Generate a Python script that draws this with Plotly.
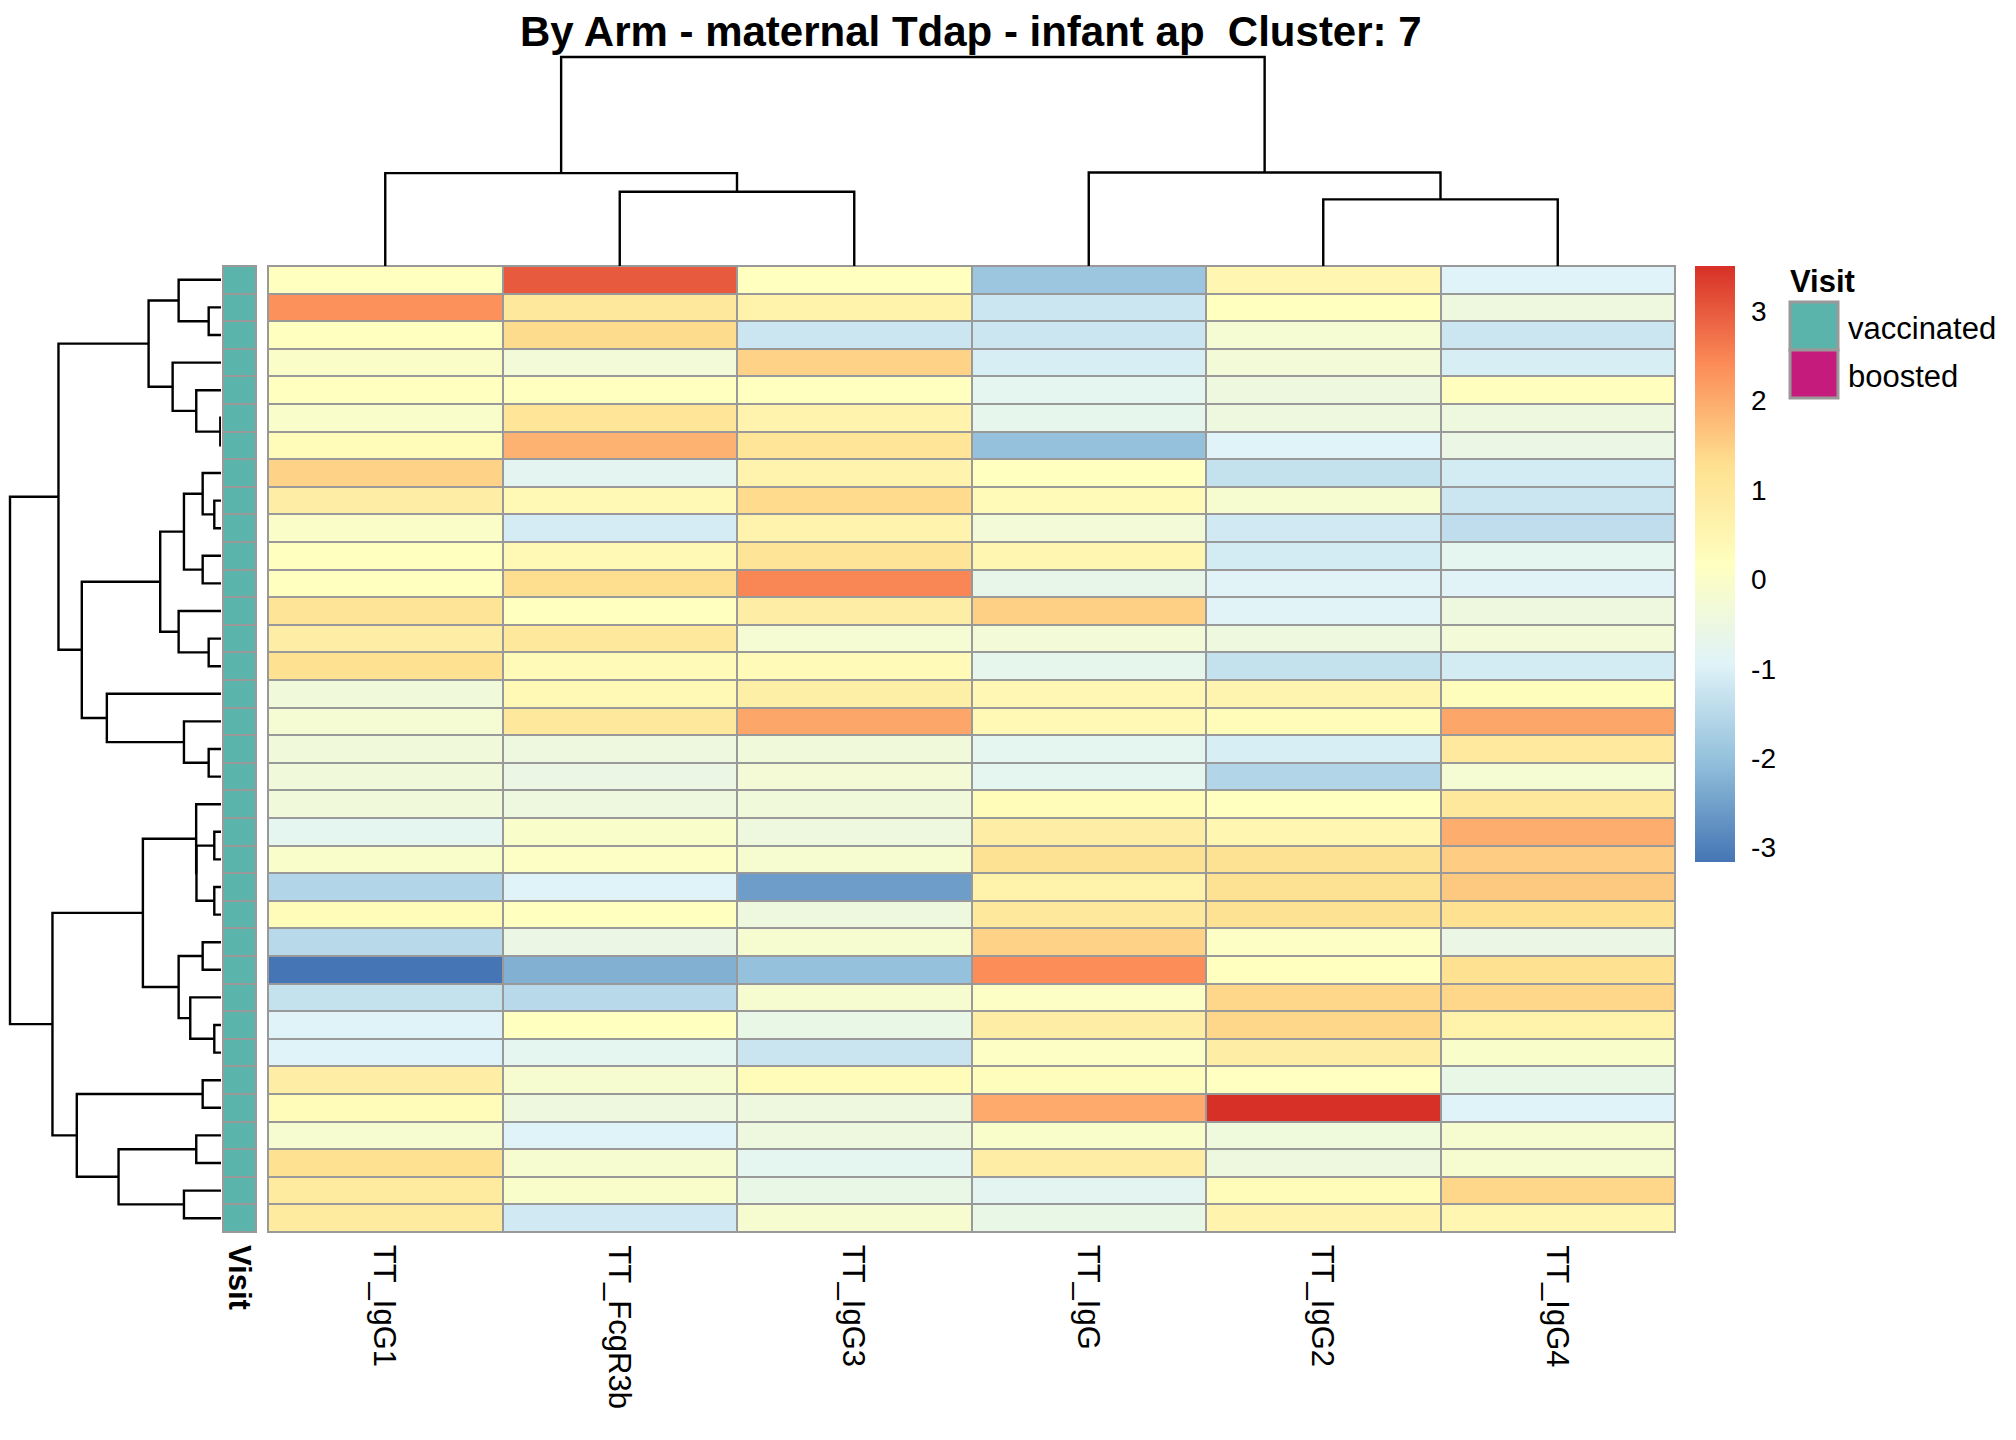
import plotly.graph_objects as go

W, H = 2016, 1440
FONT = "Liberation Sans, Arial, sans-serif"

TITLE = "By Arm - maternal Tdap - infant ap  Cluster: 7"
COLS = ["TT_IgG1", "TT_FcgR3b", "TT_IgG3", "TT_IgG", "TT_IgG2", "TT_IgG4"]

# scaled values, rows in displayed (clustered) order
VALUES = [
    [0.17, 3.00, 0.17, -1.90, 0.50, -0.95],
    [2.34, 1.00, 0.65, -1.22, 0.17, -0.44],
    [0.17, 1.33, -1.22, -1.22, -0.20, -1.22],
    [0.00, -0.30, 1.45, -1.05, -0.30, -1.05],
    [0.17, 0.17, 0.17, -0.76, -0.44, 0.20],
    [-0.05, 1.10, 0.60, -0.70, -0.44, -0.44],
    [0.30, 1.90, 1.10, -2.00, -0.94, -0.55],
    [1.45, -0.80, 0.60, 0.17, -1.33, -1.12],
    [0.80, 0.40, 1.35, 0.35, -0.15, -1.22],
    [0.00, -1.10, 0.60, -0.30, -1.15, -1.41],
    [0.17, 0.40, 1.15, 0.50, -1.12, -0.76],
    [0.17, 1.30, 2.47, -0.65, -0.92, -0.92],
    [1.15, 0.17, 0.80, 1.50, -0.92, -0.44],
    [0.80, 1.00, -0.20, -0.30, -0.44, -0.30],
    [1.25, 0.35, 0.35, -0.70, -1.33, -1.12],
    [-0.36, 0.40, 0.75, 0.45, 0.55, 0.25],
    [-0.20, 1.00, 2.05, 0.40, 0.30, 2.05],
    [-0.36, -0.44, -0.36, -0.76, -1.05, 0.95],
    [-0.36, -0.55, -0.26, -0.76, -1.59, -0.20],
    [-0.36, -0.44, -0.36, 0.30, 0.17, 1.00],
    [-0.76, -0.05, -0.44, 0.80, 0.50, 1.95],
    [-0.05, 0.05, -0.15, 1.20, 1.20, 1.55],
    [-1.59, -0.94, -2.56, 0.65, 1.20, 1.60],
    [0.30, 0.17, -0.44, 1.00, 1.20, 1.25],
    [-1.50, -0.55, -0.15, 1.45, 0.05, -0.55],
    [-3.16, -2.27, -2.00, 2.39, 0.17, 1.25],
    [-1.33, -1.50, -0.15, 0.05, 1.40, 1.40],
    [-0.95, 0.17, -0.60, 0.80, 1.40, 0.65],
    [-0.94, -0.76, -1.25, 0.05, 0.80, -0.05],
    [0.80, -0.15, 0.30, 0.25, 0.15, -0.60],
    [0.30, -0.44, -0.44, 2.00, 3.50, -0.94],
    [-0.15, -0.94, -0.44, -0.05, -0.40, -0.15],
    [1.25, -0.15, -0.76, 0.80, -0.44, -0.15],
    [0.90, -0.05, -0.60, -0.80, 0.30, 1.40],
    [0.90, -1.15, -0.15, -0.60, 0.60, 0.50],
]
N_ROWS = len(VALUES)

VISIT_LEVELS = ["vaccinated", "boosted"]
VISIT_COLORS = ["#5AB4AC", "#C51B7D"]
ROW_VISIT = ["vaccinated"] * N_ROWS

# clustering trees: (left, right, height); leaves are display indices
ROW_TREE = (
    (
        ((0, (1, 2, 12.3), 42.3), (3, (4, (5, 6, 0.7), 24.7), 48.3), 72.3),
        (
            (((7, (8, 9, 6.7), 18.3), (10, 11, 18.3), 37.0), (12, (13, 14, 12.3), 42.3), 60.7),
            (15, (16, (17, 18, 12.3), 37.0), 114.0),
            139.0,
        ),
        162.3,
    ),
    (
        (
            (19, ((20, 21, 6.7), (22, 23, 6.7), 24.5), 24.8),
            ((24, 25, 18.3), (26, (27, 28, 6.7), 30.7), 42.3),
            78.0,
        ),
        ((29, 30, 18.3), ((31, 32, 24.7), (33, 34, 37.0), 102.3), 144.0),
        168.3,
    ),
    210.7,
)
COL_TREE = ((0, (1, 2, 74.3), 93.0), (3, (4, 5, 66.7), 93.7), 209.3)

COLORSCALE_HEX = ["#4575B4", "#91BFDB", "#E0F3F8", "#FFFFBF", "#FEE090", "#FC8D59", "#D73027"]
ZMIN, ZMAX = -3.16, 3.50
CB_TICKS = [-3, -2, -1, 0, 1, 2, 3]


def tree_segments(node):
    """return (position, height, pos_list, h_list) with None separators"""
    if isinstance(node, int):
        return float(node), 0.0, [], []
    l, r, h = node
    pl, hl, Pl, Hl = tree_segments(l)
    pr, hr, Pr, Hr = tree_segments(r)
    P = Pl + Pr + [pl, pl, pr, pr, None]
    Hs = Hl + Hr + [hl, h, h, hr, None]
    return (pl + pr) / 2.0, h, P, Hs


OFF = 8  # page offset of the plot div


def px_x(p):
    return (p - OFF) / W


def px_y(p):
    return 1 - (p - OFF) / H


# pixel layout (target picture coordinates)
HM_L, HM_R, HM_T, HM_B = 268, 1675, 266, 1232
AN_L, AN_R = 223, 256
RD_L, RD_R = 10, 221
CD_T = 57

fig = go.Figure()

cs = [[i / (len(COLORSCALE_HEX) - 1), c] for i, c in enumerate(COLORSCALE_HEX)]
fig.add_trace(go.Heatmap(
    z=VALUES, x=list(range(len(COLS))), y=list(range(N_ROWS)),
    colorscale=cs, zmin=ZMIN, zmax=ZMAX, xgap=2, ygap=2,
    xaxis="x", yaxis="y", hoverinfo="skip",
    colorbar=dict(
        x=px_x(1695), xanchor="left", y=px_y(HM_T), yanchor="top",
        len=(ZMAX - ZMIN) * 89.5, lenmode="pixels",
        thickness=40, thicknessmode="pixels", outlinewidth=0,
        xpad=0, ypad=0,
        tickvals=CB_TICKS, ticktext=[str(t) for t in CB_TICKS],
        ticks="outside", ticklen=11, tickcolor="rgba(0,0,0,0)",
        tickfont=dict(size=28, family=FONT, color="black"),
    ),
))

# annotation column
visit_codes = [[VISIT_LEVELS.index(v)] for v in ROW_VISIT]
fig.add_trace(go.Heatmap(
    z=visit_codes, x=[0], y=list(range(N_ROWS)),
    colorscale=[[0, VISIT_COLORS[0]], [0.5, VISIT_COLORS[0]], [0.5, VISIT_COLORS[1]], [1, VISIT_COLORS[1]]],
    zmin=0, zmax=1, showscale=False, xgap=2, ygap=2,
    xaxis="x2", yaxis="y2", hoverinfo="skip",
))

# row dendrogram
_, rh, rP, rH = tree_segments(ROW_TREE)
fig.add_trace(go.Scatter(x=rH, y=rP, mode="lines", line=dict(color="black", width=2.4),
                         xaxis="x3", yaxis="y3", hoverinfo="skip", showlegend=False))
# column dendrogram
_, ch, cP, cH = tree_segments(COL_TREE)
fig.add_trace(go.Scatter(x=cP, y=cH, mode="lines", line=dict(color="black", width=2.4),
                         xaxis="x4", yaxis="y4", hoverinfo="skip", showlegend=False))

hm_ydom = [px_y(HM_B), px_y(HM_T)]
yrange = [N_ROWS - 0.5, -0.5]
noax = dict(visible=False, showgrid=False, zeroline=False, fixedrange=True)
rd_right = RD_R - OFF
rd_root = RD_L - OFF
fig.update_layout(
    width=W, height=H, autosize=False,
    margin=dict(l=0, r=0, t=0, b=0, pad=0),
    paper_bgcolor="white", plot_bgcolor="white",
    showlegend=False,
    xaxis=dict(domain=[px_x(HM_L), px_x(HM_R)], range=[-0.5, len(COLS) - 0.5], anchor="y", **noax),
    yaxis=dict(domain=hm_ydom, range=yrange, anchor="x", **noax),
    xaxis2=dict(domain=[px_x(AN_L), px_x(AN_R)], range=[-0.5, 0.5], anchor="y2", **noax),
    yaxis2=dict(domain=hm_ydom, range=yrange, anchor="x2", **noax),
    xaxis3=dict(domain=[0, rd_right / W], range=[rh * rd_right / (rd_right - rd_root), 0], anchor="y3", **noax),
    yaxis3=dict(domain=hm_ydom, range=yrange, anchor="x3", **noax),
    xaxis4=dict(domain=[px_x(HM_L), px_x(HM_R)], range=[-0.5, len(COLS) - 0.5], anchor="y4", **noax),
    yaxis4=dict(domain=[px_y(HM_T), px_y(40)], range=[0, ch * (HM_T - 40) / (HM_T - CD_T)], anchor="x4", **noax),
)

GREY = "#999999"
shapes = [
    dict(type="rect", xref="paper", yref="paper", layer="below",
         x0=px_x(HM_L - 1), x1=px_x(HM_R + 1), y0=px_y(HM_B + 1), y1=px_y(HM_T - 1),
         fillcolor=GREY, line=dict(width=0)),
    dict(type="rect", xref="paper", yref="paper", layer="below",
         x0=px_x(AN_L - 1), x1=px_x(AN_R + 1), y0=px_y(HM_B + 1), y1=px_y(HM_T - 1),
         fillcolor=GREY, line=dict(width=0)),
]
# legend boxes for Visit
LG_L, LG_R, LG_T, LG_BOX = 1790, 1838, 302, 48
for i, c in enumerate(VISIT_COLORS):
    shapes.append(dict(type="rect", xref="paper", yref="paper",
                       x0=px_x(LG_L), x1=px_x(LG_R),
                       y0=px_y(LG_T + (i + 1) * LG_BOX), y1=px_y(LG_T + i * LG_BOX),
                       fillcolor=c, line=dict(color=GREY, width=3)))
fig.update_layout(shapes=shapes)

ann = [
    dict(text="<b>" + TITLE + "</b>", x=px_x(971), y=px_y(31), xref="paper", yref="paper",
         xanchor="center", yanchor="middle", showarrow=False,
         font=dict(size=42, family=FONT, color="black")),
    dict(text="<b>Visit</b>", x=px_x(LG_L - 2), y=px_y(281), xref="paper", yref="paper",
         xanchor="left", yanchor="middle", showarrow=False,
         font=dict(size=31, family=FONT, color="black")),
    dict(text="<b>Visit</b>", x=0, y=px_y(1243), xref="x2", yref="paper",
         xanchor="center", yanchor="top", textangle=90, showarrow=False,
         font=dict(size=31, family=FONT, color="black")),
]
for i, lv in enumerate(VISIT_LEVELS):
    ann.append(dict(text=lv, x=px_x(LG_R + 8), y=px_y(LG_T + i * LG_BOX + LG_BOX / 2 + 2),
                    xref="paper", yref="paper", xanchor="left", yanchor="middle",
                    showarrow=False, font=dict(size=31, family=FONT, color="black")))
for i, c in enumerate(COLS):
    ann.append(dict(text=c, x=i, y=px_y(1243), xref="x", yref="paper",
                    xanchor="center", yanchor="top", textangle=90, showarrow=False,
                    font=dict(size=31, family=FONT, color="black")))
fig.update_layout(annotations=ann)

fig.write_html("out.html")
